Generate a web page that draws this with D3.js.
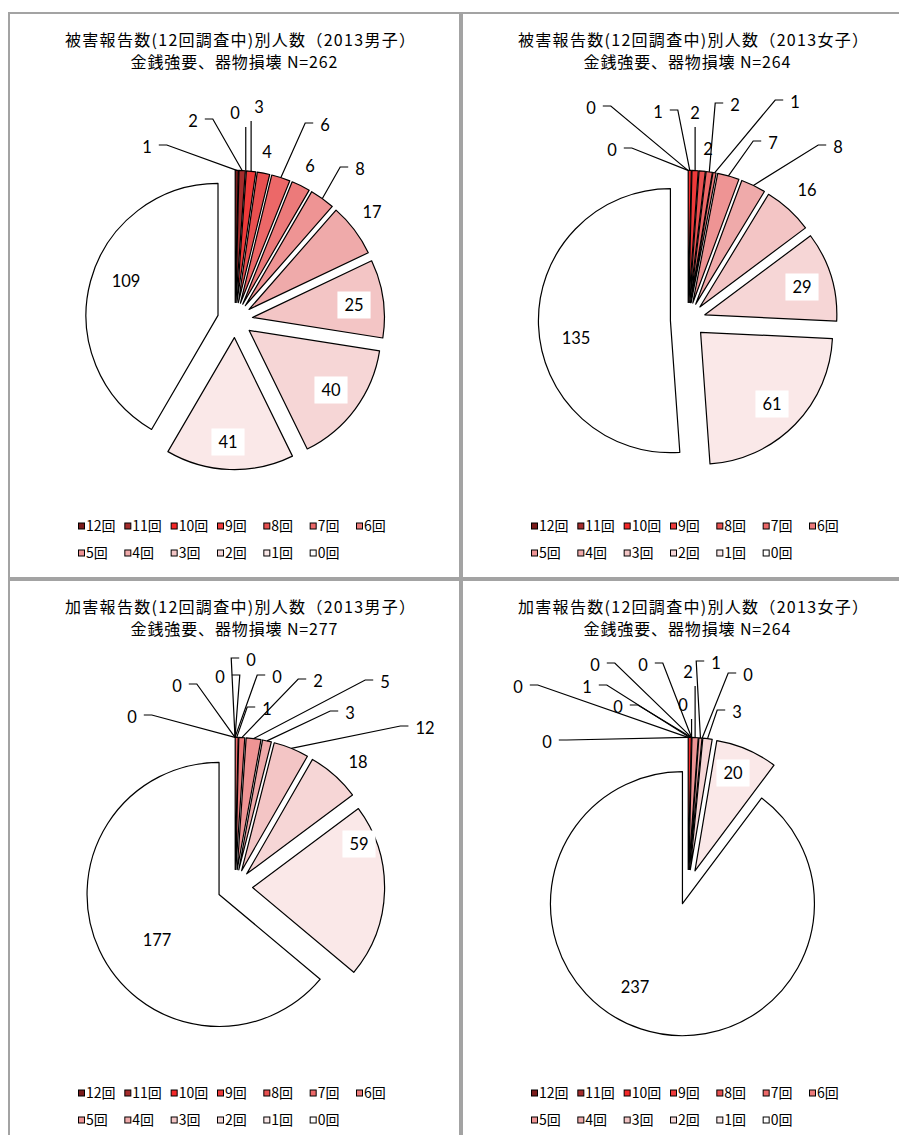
<!DOCTYPE html>
<html>
<head>
<meta charset="utf-8">
<script src="https://cdn.jsdelivr.net/npm/d3@7"></script>
<style>
  html, body { margin: 0; padding: 0; background: #fff; }
  svg { display: block; }
</style>
</head>
<body>
<script>
// Categories: number of reports out of 12 surveys (12回 … 0回)
const categories = ["12回", "11回", "10回", "9回", "8回", "7回", "6回", "5回", "4回", "3回", "2回", "1回", "0回"];

// People per category, 金銭強要・器物損壊
const victimBoys2013    = [1, 2, 0, 3, 4, 6, 6, 8, 17, 25, 40, 41, 109];
const victimGirls2013   = [0, 0, 1, 2, 2, 2, 1, 7, 8, 16, 29, 61, 135];
const offenderBoys2013  = [0, 0, 0, 0, 0, 1, 2, 5, 3, 12, 18, 59, 177];
const offenderGirls2013 = [0, 0, 1, 0, 0, 0, 0, 2, 1, 0, 3, 20, 237];

const titleLines1 = [
  "被害報告数(12回調査中)別人数（2013男子）",
  "被害報告数(12回調査中)別人数（2013女子）",
  "加害報告数(12回調査中)別人数（2013男子）",
  "加害報告数(12回調査中)別人数（2013女子）"
];
const subtitle = "金銭強要、器物損壊";

// Slice colours, 12回 (darkest) to 0回 (white)
const sliceColors = ["#7a1b1b", "#a52c2c", "#f42828", "#ee3a3a", "#e85050", "#ec6868", "#ec7a7a",
                     "#ee9494", "#efaaaa", "#f3c5c5", "#f6d6d6", "#fae8e8", "#ffffff"];

// Data-label placement (offset of label centre from the pie centre), per chart
const labelOffsets = [
  [[-88,-173],[-42,-199],[0,-207],[24,-213],[32,-168],[90,-195],[75,-154],[125,-151],[137,-108],[119,-15],[96,70],[-7,122],[-109,-39]],
  [[-76,-170],[-97,-212],[-30,-208],[7,-207],[20,-171],[47,-215],[107,-218],[85,-177],[150,-173],[119,-130],[114,-33],[84,84],[-112,18]],
  [[-103,-170],[-58,-201],[-15,-210],[16,-227],[42,-210],[32,-178],[83,-206],[150,-205],[115,-174],[190,-159],[123,-125],[124,-43],[-78,53]],
  [[-141,-145],[-170,-200],[-101,-200],[-70,-180],[-93,-222],[-45,-222],[-5,-182],[0,-215],[28,-224],[60,-212],[49,-175],[45,-114],[-53,100]]
];

const charts = [
  { title: titleLines1[0], values: victimBoys2013 },
  { title: titleLines1[1], values: victimGirls2013 },
  { title: titleLines1[2], values: offenderBoys2013 },
  { title: titleLines1[3], values: offenderGirls2013 }
];

const W = 899, H = 1135;
const panelW = 451, panelH = 565;
const panelOrigins = [[9, 13], [462, 13], [9, 580], [462, 580]];
const pieCx = 226, pieCy = 307, radius = 132, explode = 17.6;

const svg = d3.select("body").append("svg")
  .attr("width", W).attr("height", H)
  .attr("viewBox", `0 0 ${W} ${H}`);

const pie = d3.pie().sort(null).value(d => d).startAngle(0).endAngle(2 * Math.PI);
const arc = d3.arc().innerRadius(0).outerRadius(radius);

const cjk = "'Noto Sans CJK JP', 'Noto Sans', sans-serif";
const numFont = "Lato, 'Open Sans', sans-serif";

charts.forEach((chart, ci) => {
  const [ox, oy] = panelOrigins[ci];
  const g = svg.append("g").attr("transform", `translate(${ox},${oy})`);

  // chart-area frame
  g.append("rect")
    .attr("x", 0).attr("y", 0)
    .attr("width", panelW).attr("height", panelH)
    .attr("fill", "#fff")
    .attr("stroke", "#a3a3a3").attr("stroke-width", 2);

  // title
  const total = d3.sum(chart.values);
  g.append("text")
    .attr("x", 231).attr("y", 27).attr("dy", "0.36em")
    .attr("text-anchor", "middle")
    .attr("textLength", 350).attr("lengthAdjust", "spacing")
    .style("font-family", cjk).style("font-size", "16px")
    .text(chart.title);
  g.append("text")
    .attr("x", 225).attr("y", 49).attr("dy", "0.36em")
    .attr("text-anchor", "middle")
    .attr("textLength", 207).attr("lengthAdjust", "spacing")
    .style("font-family", cjk).style("font-size", "16px")
    .text(`${subtitle} N=${total}`);

  // pie
  const arcs = pie(chart.values);
  const pg = g.append("g").attr("transform", `translate(${pieCx},${pieCy})`);
  const mid = d => (d.startAngle + d.endAngle) / 2;

  pg.selectAll("path.slice")
    .data(arcs.filter(d => d.value > 0))
    .join("path")
    .attr("class", "slice")
    .attr("transform", d => `translate(${Math.sin(mid(d)) * explode},${-Math.cos(mid(d)) * explode})`)
    .attr("d", arc)
    .attr("fill", d => sliceColors[d.index])
    .attr("stroke", "#000")
    .attr("stroke-width", 1.2)
    .attr("stroke-linejoin", "round");

  // data labels
  const lg = pg.append("g");
  arcs.forEach((d, i) => {
    const [lx, ly] = labelOffsets[ci][i];
    const a = mid(d);
    const ax = Math.sin(a) * (radius + explode);
    const ay = -Math.cos(a) * (radius + explode);
    const inside = Math.hypot(lx, ly) < radius + 8;

    const t = lg.append("text")
      .attr("x", lx).attr("y", ly).attr("dy", "0.35em")
      .attr("text-anchor", "middle")
      .style("font-family", numFont).style("font-size", "16.5px")
      .text(d.value);
    const tw = t.node().getComputedTextLength();

    if (inside) {
      lg.insert("rect", () => t.node())
        .attr("x", lx - tw / 2 - 7).attr("y", ly - 13.5)
        .attr("width", tw + 14).attr("height", 27)
        .attr("fill", "#fff");
    } else if (Math.hypot(ax - lx, ay - ly) > 30) {
      let pts;
      if (Math.abs(ax - lx) < 15) {
        pts = [[ax, ly + 14], [ax, ay]];
      } else {
        const side = ax > lx ? 1 : -1;
        const xe = lx + side * (tw / 2 + 7);
        pts = [[xe, ly - 2], [xe + side * 8, ly - 2], [ax, ay]];
      }
      lg.append("path")
        .attr("d", d3.line()(pts))
        .attr("fill", "none")
        .attr("stroke", "#000")
        .attr("stroke-width", 1.2);
    }
  });

  // legend: 7 columns, 2 rows
  const legendX = d3.scaleLinear().domain([0, 6]).range([69, 347]);
  const legendY = d3.scalePoint().domain([0, 1]).range([513, 540]);
  const lgd = g.append("g");
  categories.forEach((c, i) => {
    const col = i % 7, row = Math.floor(i / 7);
    const x = legendX(col), y = legendY(row);
    lgd.append("rect")
      .attr("x", x + 0.5).attr("y", y - 3)
      .attr("width", 6).attr("height", 6)
      .attr("fill", sliceColors[i])
      .attr("stroke", "#000").attr("stroke-width", 1);
    lgd.append("text")
      .attr("x", x + 8).attr("y", y).attr("dy", "0.36em")
      .style("font-family", cjk).style("font-size", "14px")
      .text(c);
  });
});
</script>
</body>
</html>
